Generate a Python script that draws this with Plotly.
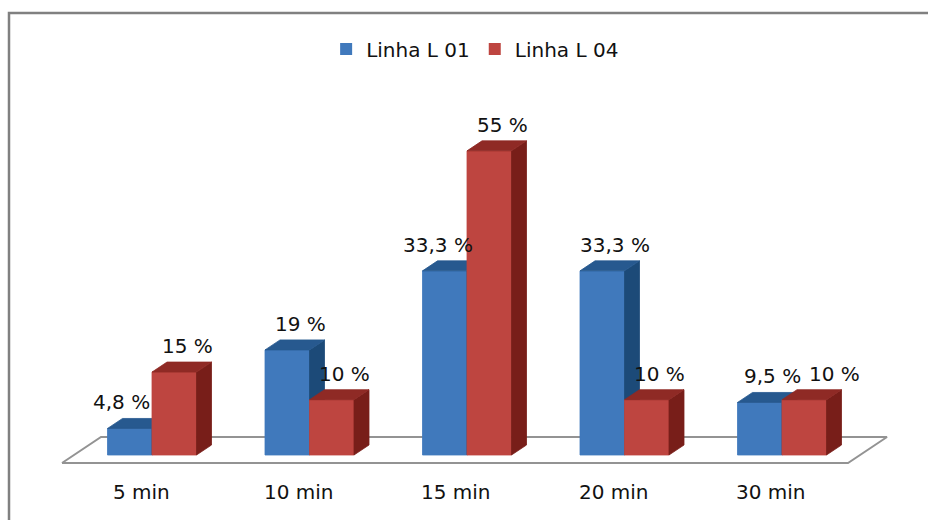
import plotly.graph_objects as go

# ---- data ----
categories = ["5 min", "10 min", "15 min", "20 min", "30 min"]
series_names = ["Linha L 01", "Linha L 04"]
linha_l01 = [4.8, 19, 33.3, 33.3, 9.5]
linha_l04 = [15, 10, 55, 10, 10]
labels_l01 = ["4,8 %", "19 %", "33,3 %", "33,3 %", "9,5 %"]
labels_l04 = ["15 %", "10 %", "55 %", "10 %", "10 %"]

# ---- styling / geometry ----
W, H = 928, 520
PX_X = 157.5          # pixels per category step
PX_Y = 5.53           # pixels per percent
X0_PX = 152           # pixel of first category centre
Y0_PX = 455           # pixel of the bar bottoms
BAR_W = 44.5 / PX_X   # bar width in axis units
DX = 15 / PX_X        # 3D depth offset (x)
DY = 10 / PX_Y        # 3D depth offset (y)

colors = {
    "Linha L 01": dict(front="#4079BC", side="#1C4A78", top="#27598F"),
    "Linha L 04": dict(front="#BE4540", side="#781E19", top="#8F2A25"),
}
# horizontal nudges (px) for labels that Excel moved to avoid overlaps
label_nudge = {("Linha L 01", 0): -21, ("Linha L 01", 2): -19.5, ("Linha L 04", 4): 17}

xmin = -X0_PX / PX_X
xmax = xmin + W / PX_X
ymax = Y0_PX / PX_Y
ymin = ymax - H / PX_Y

fig = go.Figure()

# floor (parallelogram)
f_front = -8 / PX_Y
f_back = 18 / PX_Y
fl_left_front = -90 / PX_X
fl_right_front = (848 - X0_PX) / PX_X
fl_shift = 39 / PX_X
fig.add_trace(go.Scatter(
    x=[fl_left_front, fl_right_front, fl_right_front + fl_shift, fl_left_front + fl_shift, fl_left_front],
    y=[f_front, f_front, f_back, f_back, f_front],
    mode="lines", fill="toself", fillcolor="white",
    line=dict(color="#939393", width=2), hoverinfo="skip", showlegend=False))


def faces(values, offset):
    fx, fy, sx, sy, tx, ty = [], [], [], [], [], []
    for i, v in enumerate(values):
        x0 = i + offset
        x1 = x0 + BAR_W
        fx += [x0, x1, x1, x0, x0, None]
        fy += [0, 0, v, v, 0, None]
        sx += [x1, x1 + DX, x1 + DX, x1, x1, None]
        sy += [0, DY, v + DY, v, 0, None]
        tx += [x0, x1, x1 + DX, x0 + DX, x0, None]
        ty += [v, v, v + DY, v + DY, v, None]
    return (fx, fy), (sx, sy), (tx, ty)


for name, vals, off in [("Linha L 01", linha_l01, -BAR_W), ("Linha L 04", linha_l04, 0.0)]:
    c = colors[name]
    fr, sd, tp = faces(vals, off)
    for (xs, ys), col in [(fr, c["front"]), (sd, c["side"]), (tp, c["top"])]:
        fig.add_trace(go.Scatter(x=xs, y=ys, mode="lines", fill="toself", fillcolor=col,
                                 line=dict(color=col, width=0.8), hoverinfo="skip",
                                 showlegend=False))

# legend entries
for name in series_names:
    fig.add_trace(go.Scatter(x=[None], y=[None], mode="markers", name=name,
                             marker=dict(symbol="square", size=12, color=colors[name]["front"])))

FONT = "DejaVu Sans"
TXT = "#111111"

# data labels
for name, vals, labs, off in [("Linha L 01", linha_l01, labels_l01, -BAR_W),
                              ("Linha L 04", linha_l04, labels_l04, 0.0)]:
    for i, (v, t) in enumerate(zip(vals, labs)):
        fig.add_annotation(x=i + off + BAR_W / 2, y=v, text=t, showarrow=False,
                           xshift=13 + label_nudge.get((name, i), 0), yshift=26,
                           xanchor="center", yanchor="middle",
                           font=dict(family=FONT, size=20, color=TXT))

# category labels
for i, cat in enumerate(categories):
    fig.add_annotation(x=i - 11 / PX_X, y=-37 / PX_Y, text=cat, showarrow=False,
                       xanchor="center", yanchor="middle",
                       font=dict(family=FONT, size=20, color=TXT))

# chart border
fig.add_shape(type="rect", xref="paper", yref="paper",
              x0=9 / W, x1=1.05, y0=-0.05, y1=1 - 13 / H,
              line=dict(color="#808080", width=2.5), layer="above")

fig.update_layout(
    width=W, height=H,
    margin=dict(l=0, r=0, t=0, b=0),
    paper_bgcolor="white", plot_bgcolor="white",
    xaxis=dict(range=[xmin, xmax], visible=False, fixedrange=True),
    yaxis=dict(range=[ymin, ymax], visible=False, fixedrange=True),
    showlegend=True,
    legend=dict(orientation="h", x=0.512, xanchor="center", y=1 - 49 / H, yanchor="middle",
                font=dict(family=FONT, size=20, color=TXT), itemwidth=30,
                bgcolor="rgba(0,0,0,0)"),
)

fig.write_html("out.html")
